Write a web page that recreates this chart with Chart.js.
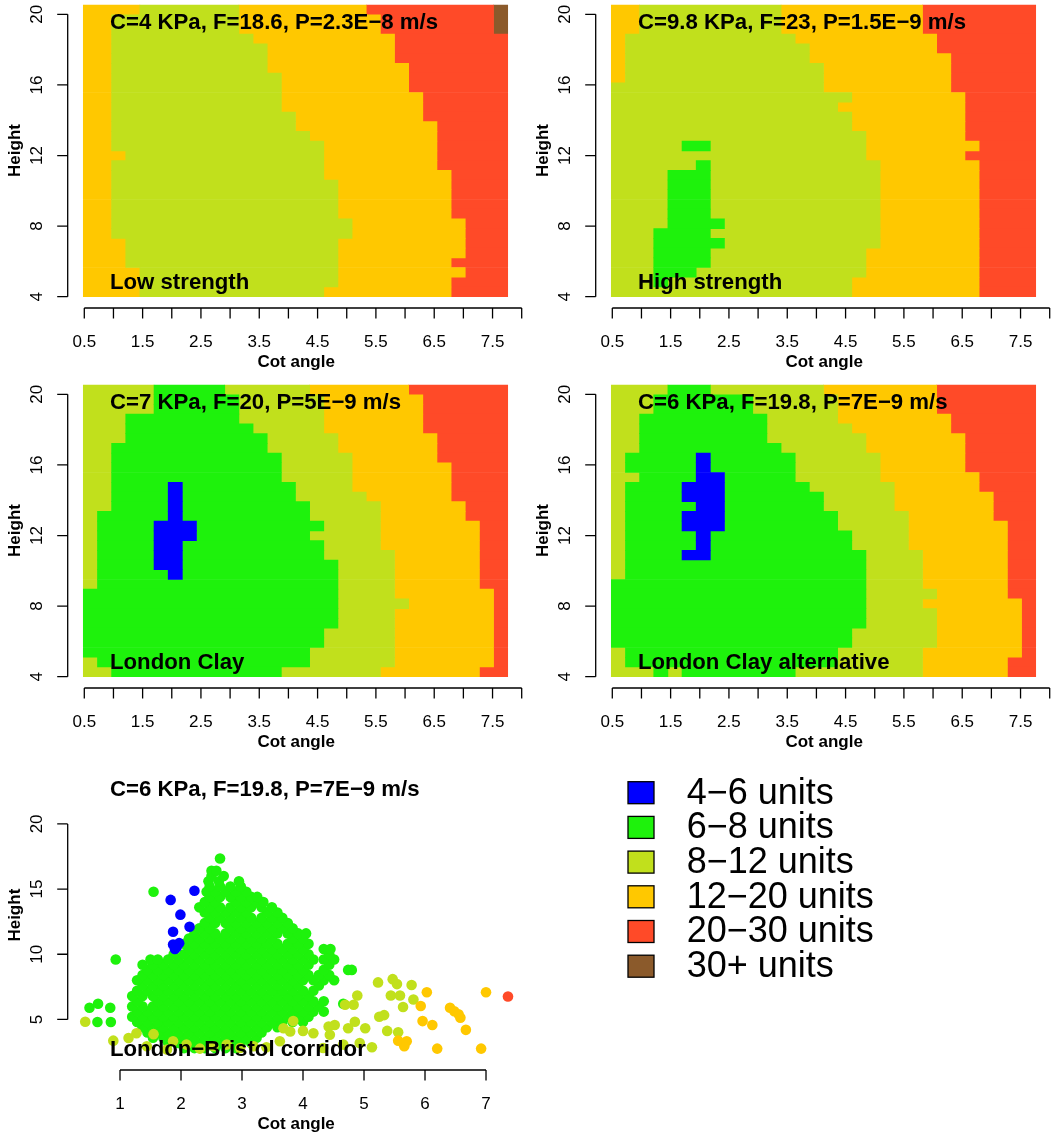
<!DOCTYPE html>
<html>
<head>
<meta charset="utf-8">
<script src="https://cdn.jsdelivr.net/npm/chart.js@4.4.0/dist/chart.umd.min.js"></script>
<style>
  html, body { margin: 0; padding: 0; background: #fff; }
  #page { position: relative; width: 1063px; height: 1135px; overflow: hidden; background: #fff; }
  canvas { position: absolute; }
</style>
</head>
<body>
<div id="page">
  <canvas id="lowStrength" width="530" height="380" style="left:0;top:-7px"></canvas>
  <canvas id="highStrength" width="530" height="380" style="left:528px;top:-7px"></canvas>
  <canvas id="londonClay" width="530" height="380" style="left:0;top:373px"></canvas>
  <canvas id="londonClayAlt" width="530" height="380" style="left:528px;top:373px"></canvas>
  <canvas id="corridor" width="1063" height="380" style="left:0;top:755px"></canvas>
</div>
<script>
const FONT = '"Liberation Sans", Arial, Helvetica, sans-serif';

// cost bands, in legend order
const levelCodes = ['B', 'G', 'L', 'O', 'R', 'W'];
const levelLabels = ['4−6 units', '6−8 units', '8−12 units', '12−20 units', '20−30 units', '30+ units'];
const levelColors = ['#0000ff', '#1ef20c', '#c1e01c', '#ffc800', '#ff4a28', '#8b5a2b'];

// extent of the 30 x 30 grid (cot angle, height)
const cotRange = [0.483, 7.76];
const heightRange = [4.0, 20.53];
const gridCols = 30;

// each row (top row first) is run-length coded: band code + number of cells
const lowStrengthRows = [
  'O4 L7 O9 R9 W1', 'O2 L9 O10 R8 W1', 'O2 L9 O10 R8 W1', 'O2 L10 O10 R8', 'O2 L11 O9 R8',
  'O2 L11 O9 R8', 'O2 L11 O10 R7', 'O2 L12 O9 R7', 'O2 L12 O9 R7', 'O2 L12 O10 R6',
  'O2 L12 O10 R6', 'O2 L13 O9 R6', 'O2 L13 O10 R5', 'O2 L14 O9 R5', 'O2 L15 O8 R5',
  'O3 L14 O8 R5', 'O2 L15 O8 R5', 'O2 L15 O9 R4', 'O2 L16 O8 R4', 'O2 L16 O8 R4',
  'O2 L16 O8 R4', 'O2 L16 O8 R4', 'O2 L17 O8 R3', 'O2 L17 O8 R3', 'O3 L15 O9 R3',
  'O3 L15 O9 R3', 'O3 L15 O8 R4', 'O4 L14 O9 R3', 'O4 L14 O8 R4', 'O4 L13 O9 R4'
];
const highStrengthRows = [
  'O2 L10 O10 R8', 'O2 L10 O10 R8', 'O2 L10 O10 R8', 'O1 L12 O10 R7', 'O1 L13 O9 R7',
  'O1 L13 O10 R6', 'O1 L14 O9 R6', 'O1 L14 O9 R6', 'L15 O9 R6', 'L17 O8 R5',
  'L16 O9 R5', 'L17 O8 R5', 'L17 O8 R5', 'L18 O7 R5', 'L5 G2 L11 O8 R4',
  'L18 O7 R5', 'L6 G1 L12 O7 R4', 'L4 G3 L12 O7 R4', 'L4 G3 L12 O7 R4', 'L4 G3 L12 O7 R4',
  'L4 G3 L12 O7 R4', 'L4 G3 L12 O7 R4', 'L4 G4 L11 O7 R4', 'L3 G4 L12 O7 R4', 'L3 G5 L11 O7 R4',
  'L3 G4 L11 O8 R4', 'L3 G4 L11 O8 R4', 'L3 G3 L12 O8 R4', 'L3 G1 L13 O9 R4', 'L17 O9 R4'
];
const londonClayRows = [
  'L5 G5 L6 O7 R7', 'L5 G6 L6 O7 R6', 'L5 G6 L6 O7 R6', 'L3 G8 L6 O7 R6', 'L3 G9 L5 O7 R6',
  'L3 G10 L5 O7 R5', 'L2 G11 L5 O7 R5', 'L2 G12 L5 O6 R5', 'L2 G12 L5 O7 R4', 'L2 G12 L5 O7 R4',
  'L2 G4 B1 G8 L4 O7 R4', 'L2 G4 B1 G8 L5 O6 R4', 'L2 G4 B1 G9 L5 O6 R3', 'L1 G5 B1 G9 L5 O6 R3', 'L1 G4 B3 G9 L4 O7 R2',
  'L1 G4 B3 G8 L5 O7 R2', 'L1 G4 B2 G10 L4 O7 R2', 'L1 G4 B2 G10 L5 O6 R2', 'L1 G4 B2 G11 L4 O6 R2', 'L1 G5 B1 G11 L4 O6 R2',
  'L1 G17 L4 O6 R2', 'G18 L4 O7 R1', 'G18 L5 O6 R1', 'G18 L4 O7 R1', 'G18 L4 O7 R1',
  'G17 L5 O7 R1', 'G17 L5 O7 R1', 'G16 L6 O7 R1', 'L1 G15 L6 O7 R1', 'L2 G12 L7 O7 R2'
];
const londonClayAltRows = [
  'L4 G3 L8 O8 R7', 'L3 G7 L6 O7 R7', 'L3 G7 L6 O7 R7', 'L2 G9 L5 O8 R6', 'L2 G9 L6 O7 R6',
  'L2 G9 L7 O7 R5', 'L2 G10 L6 O7 R5', 'L1 G5 B1 G6 L6 O6 R5', 'L1 G5 B1 G6 L6 O6 R5', 'L2 G4 B2 G5 L6 O7 R4',
  'L1 G4 B3 G6 L6 O6 R4', 'L1 G4 B3 G7 L5 O7 R3', 'L1 G5 B2 G7 L5 O7 R3', 'L1 G4 B3 G8 L5 O6 R3', 'L1 G4 B3 G8 L5 O7 R2',
  'L1 G5 B1 G10 L4 O7 R2', 'L1 G5 B1 G10 L4 O7 R2', 'L1 G4 B2 G11 L4 O6 R2', 'L1 G17 L4 O6 R2', 'L1 G17 L4 O6 R2',
  'G18 L4 O6 R2', 'G18 L5 O5 R2', 'G18 L4 O7 R1', 'G18 L5 O6 R1', 'G18 L5 O6 R1',
  'G17 L6 O6 R1', 'G17 L6 O6 R1', 'L1 G15 L6 O7 R1', 'L1 G15 L6 O6 R2', 'L3 G1 L1 G8 L9 O6 R2'
];

// London-Bristol corridor sites [cot angle, height]
const corridorBlue = [[1.83, 14.17], [2.22, 14.87], [1.99, 13.04], [2.14, 12.11], [1.87, 11.73],
  [1.87, 10.75], [1.93, 10.55], [1.97, 10.85], [1.9, 10.4]];
// green sites grouped by height: [height, [cot angles]]
const corridorGreenRows = [
  [2.8, [2.05, 2.22, 2.39, 2.56, 2.73, 2.9]],
  [3.2, [1.79, 1.96, 2.13, 2.3, 2.47, 2.64, 2.81, 2.98, 3.15]],
  [3.6, [1.54, 1.71, 1.88, 2.05, 2.22, 2.39, 2.56, 2.73, 2.9, 3.07, 3.24]],
  [4.0, [1.45, 1.62, 1.79, 1.96, 2.13, 2.3, 2.47, 2.64, 2.81, 2.98, 3.15, 3.32]],
  [4.4, [1.37, 1.54, 1.71, 1.88, 2.05, 2.22, 2.39, 2.56, 2.73, 2.9, 3.07, 3.24, 3.41, 3.58]],
  [4.8, [0.63, 0.85, 1.28, 1.45, 1.62, 1.79, 1.96, 2.13, 2.3, 2.47, 2.64, 2.81, 2.98, 3.15, 3.32, 3.49, 3.66, 3.83, 4.0]],
  [5.2, [1.2, 1.37, 1.54, 1.71, 1.88, 2.05, 2.22, 2.39, 2.56, 2.73, 2.9, 3.07, 3.24, 3.41, 3.58, 3.75, 3.92, 4.09]],
  [5.6, [1.28, 1.45, 1.62, 1.79, 1.96, 2.13, 2.3, 2.47, 2.64, 2.81, 2.98, 3.15, 3.32, 3.49, 3.66, 3.83, 4.0, 4.17, 4.34]],
  [5.9, [0.5, 0.84]],
  [6.0, [1.2, 1.37, 1.54, 1.71, 1.88, 2.05, 2.22, 2.39, 2.56, 2.73, 2.9, 3.07, 3.24, 3.41, 3.58, 3.75, 3.92, 4.09, 4.26]],
  [6.2, [0.64, 4.66]],
  [6.4, [1.28, 1.62, 1.79, 1.96, 2.13, 2.3, 2.47, 2.64, 2.81, 2.98, 3.15, 3.32, 3.49, 3.66, 3.83, 4.0, 4.17, 4.34]],
  [6.8, [1.2, 1.37, 1.54, 1.71, 1.88, 2.05, 2.22, 2.39, 2.56, 2.73, 2.9, 3.07, 3.24, 3.41, 3.58, 3.75, 3.92, 4.09]],
  [7.2, [1.28, 1.45, 1.62, 1.79, 1.96, 2.13, 2.3, 2.47, 2.64, 2.81, 2.98, 3.15, 3.32, 3.49, 3.66, 3.83, 4.0, 4.17]],
  [7.6, [1.37, 1.54, 1.71, 1.88, 2.05, 2.22, 2.39, 2.56, 2.73, 2.9, 3.07, 3.24, 3.41, 3.58, 3.75, 3.92, 4.26]],
  [8.0, [1.28, 1.45, 1.62, 1.79, 1.96, 2.13, 2.3, 2.47, 2.64, 2.81, 2.98, 3.15, 3.32, 3.49, 3.66, 3.83, 4.0, 4.17, 4.34, 4.51]],
  [8.4, [1.37, 1.54, 1.71, 1.88, 2.05, 2.22, 2.39, 2.56, 2.73, 2.9, 3.07, 3.24, 3.41, 3.58, 3.75, 3.92, 4.09, 4.26, 4.43]],
  [8.8, [1.45, 1.62, 1.79, 1.96, 2.13, 2.3, 2.47, 2.64, 2.81, 2.98, 3.15, 3.32, 3.49, 3.66, 3.83, 4.0, 4.34, 4.74, 4.8]],
  [9.2, [1.37, 1.54, 1.71, 1.88, 2.05, 2.22, 2.39, 2.56, 2.73, 2.9, 3.07, 3.24, 3.41, 3.58, 3.75, 3.92, 4.09, 4.43]],
  [9.6, [0.93, 1.5, 1.62, 1.79, 1.96, 2.13, 2.3, 2.47, 2.64, 2.81, 2.98, 3.15, 3.32, 3.49, 3.66, 3.83, 4.0, 4.17, 4.34, 4.51]],
  [10.0, [1.88, 2.05, 2.22, 2.39, 2.56, 2.73, 2.9, 3.07, 3.24, 3.41, 3.58, 3.75, 3.92, 4.09, 4.43]],
  [10.4, [2.13, 2.3, 2.47, 2.64, 2.81, 2.98, 3.15, 3.32, 3.49, 3.66, 3.83, 4.0, 4.34, 4.45]],
  [10.8, [2.05, 2.22, 2.39, 2.56, 2.73, 2.9, 3.07, 3.24, 3.41, 3.58, 3.75, 3.92, 4.09]],
  [11.2, [2.13, 2.3, 2.47, 2.64, 2.81, 2.98, 3.15, 3.32, 3.49, 3.83, 4.0]],
  [11.6, [2.22, 2.39, 2.56, 2.73, 2.9, 3.07, 3.24, 3.41, 3.58, 3.75, 3.92, 4.05]],
  [12.0, [2.3, 2.47, 2.81, 2.98, 3.15, 3.32, 3.49, 3.66, 3.83]],
  [12.4, [2.39, 2.56, 2.73, 2.9, 3.07, 3.24, 3.41, 3.58, 3.75]],
  [12.8, [2.47, 2.64, 2.81, 2.98, 3.15, 3.32, 3.49, 3.66]],
  [13.2, [2.39, 2.56, 2.73, 2.9, 3.07, 3.41, 3.58]],
  [13.6, [2.3, 2.47, 2.64, 2.81, 2.98, 3.15, 3.32, 3.49]],
  [14.0, [2.39, 2.56, 2.9, 3.07, 3.24, 3.35]],
  [14.4, [2.47, 2.64, 2.81, 2.98, 3.15, 3.25]],
  [14.8, [1.55, 2.42, 2.56, 2.73, 2.9, 3.07]],
  [15.2, [2.47, 2.64, 2.81, 2.98]],
  [15.6, [2.45, 2.62, 2.95]],
  [16.0, [2.5, 2.7]],
  [16.4, [2.5, 2.58]],
  [17.35, [2.64]]
];
const corridorLime = [[0.43, 4.82], [5.23, 7.84], [5.47, 8.09], [5.54, 7.71], [5.78, 7.64], [5.44, 6.83],
  [5.59, 6.83], [5.64, 5.95], [5.81, 6.53], [5.25, 5.2], [5.33, 5.33], [5.38, 4.12], [5.56, 4.02],
  [4.89, 6.83], [4.83, 6.13], [4.69, 6.13], [4.85, 4.82], [5.02, 4.32], [4.74, 4.32], [4.52, 4.57],
  [4.42, 4.45], [5.13, 2.86], [4.93, 3.19], [0.89, 3.37], [1.14, 3.57], [1.27, 3.94], [1.44, 2.94],
  [1.55, 3.87], [1.77, 2.69], [1.87, 3.32], [2.09, 3.07], [2.31, 2.76], [2.53, 2.94], [2.75, 3.07],
  [2.97, 2.81], [3.19, 2.94], [3.4, 2.86], [3.62, 3.32], [3.68, 4.32], [3.79, 4.07], [3.84, 4.87],
  [4.0, 4.12], [4.17, 3.94], [4.33, 2.81], [4.44, 3.82], [4.66, 3.07]];
const corridorOrange = [[7.0, 7.09], [6.03, 7.09], [5.93, 6.03], [5.96, 4.87], [6.12, 4.57], [6.2, 2.76],
  [6.41, 5.9], [6.48, 5.63], [6.58, 5.13], [6.55, 5.4], [6.67, 4.2], [6.92, 2.76], [5.56, 3.37],
  [5.66, 2.94], [5.7, 3.32]];
const corridorRed = [[7.36, 6.76]];

const panels = [
  { id: 'lowStrength', title: 'C=4 KPa, F=18.6, P=2.3E−8 m/s', label: 'Low strength', rows: lowStrengthRows },
  { id: 'highStrength', title: 'C=9.8 KPa, F=23, P=1.5E−9 m/s', label: 'High strength', rows: highStrengthRows },
  { id: 'londonClay', title: 'C=7 KPa, F=20, P=5E−9 m/s', label: 'London Clay', rows: londonClayRows },
  { id: 'londonClayAlt', title: 'C=6 KPa, F=19.8, P=7E−9 m/s', label: 'London Clay alternative', rows: londonClayAltRows }
];

// R style axes: line only from first to last tick, ticks pointing out
const rAxes = {
  id: 'rAxes',
  afterDraw(chart) {
    const { ctx, chartArea } = chart;
    const x = chart.scales.x, y = chart.scales.y;
    const xt = x.ticks.map(t => x.getPixelForValue(t.value));
    const yt = y.ticks.map(t => y.getPixelForValue(t.value));
    const len = 10.5;
    ctx.save();
    ctx.strokeStyle = '#000';
    ctx.lineWidth = 1.3;
    ctx.beginPath();
    ctx.moveTo(xt[0], chartArea.bottom);
    ctx.lineTo(xt[xt.length - 1], chartArea.bottom);
    xt.forEach(px => { ctx.moveTo(px, chartArea.bottom); ctx.lineTo(px, chartArea.bottom + len); });
    ctx.moveTo(chartArea.left, yt[0]);
    ctx.lineTo(chartArea.left, yt[yt.length - 1]);
    yt.forEach(py => { ctx.moveTo(chartArea.left, py); ctx.lineTo(chartArea.left - len, py); });
    ctx.stroke();
    ctx.restore();
  }
};

const panelText = {
  id: 'panelText',
  afterDatasetsDraw(chart, args, opts) {
    const { ctx, chartArea } = chart;
    ctx.save();
    ctx.fillStyle = '#000';
    ctx.font = 'bold 22.2px ' + FONT;
    ctx.textAlign = 'left';
    ctx.textBaseline = 'alphabetic';
    ctx.fillText(opts.title, chartArea.left + 42.3, chartArea.top + 36);
    ctx.fillText(opts.label, chartArea.left + 42.3, chartArea.top + 295.5);
    ctx.restore();
  }
};

const sideLegend = {
  id: 'sideLegend',
  afterDraw(chart, args, opts) {
    const { ctx } = chart;
    ctx.save();
    ctx.font = opts.fontSize + 'px ' + FONT;
    ctx.textAlign = 'left';
    ctx.textBaseline = 'middle';
    chart.data.datasets.forEach((ds, i) => {
      const top = opts.top + i * opts.rowGap;
      ctx.fillStyle = ds.backgroundColor;
      ctx.fillRect(opts.left, top, opts.boxW, opts.boxH);
      ctx.strokeStyle = '#000';
      ctx.lineWidth = 1.3;
      ctx.strokeRect(opts.left, top, opts.boxW, opts.boxH);
      ctx.fillStyle = '#000';
      ctx.fillText(ds.label, opts.textX, top + opts.boxH / 2 + 1);
    });
    ctx.restore();
  }
};

function xAxis(min, max, step, labelFn) {
  return {
    type: 'linear', min: min, max: max, offset: false,
    grid: { display: false, drawTicks: false, tickLength: 0 },
    border: { display: false },
    ticks: { stepSize: step, includeBounds: false, autoSkip: false, minRotation: 0, maxRotation: 0,
      padding: 24.5, color: '#000', font: { family: FONT, size: 17 }, callback: labelFn },
    title: { display: true, text: 'Cot angle', color: '#000',
      font: { family: FONT, size: 17, weight: 'bold' }, padding: { top: 0, bottom: 0 } },
    afterFit(s) { s.height = 65; s.paddingLeft = 0; s.paddingRight = 0; s.paddingTop = 0; s.paddingBottom = 0; }
  };
}

function yAxis(min, max, step) {
  return {
    type: 'linear', min: min, max: max, offset: false,
    grid: { display: false, drawTicks: false, tickLength: 0 },
    border: { display: false },
    ticks: { stepSize: step, includeBounds: false, autoSkip: false, minRotation: 90, maxRotation: 90,
      crossAlign: 'center', padding: 21, color: '#000', font: { family: FONT, size: 17 },
      callback: v => String(v) },
    title: { display: true, text: 'Height', color: '#000',
      font: { family: FONT, size: 17, weight: 'bold' }, padding: { top: 4.8, bottom: 0 } },
    afterFit(s) { s.width = 67.7; s.paddingLeft = 0; s.paddingRight = 0; s.paddingTop = 0; s.paddingBottom = 0; }
  };
}

function heatmapDatasets(rows) {
  const cw = (cotRange[1] - cotRange[0]) / gridCols;
  const rh = (heightRange[1] - heightRange[0]) / rows.length;
  const sets = levelCodes.map((code, k) => ({
    label: levelLabels[k], data: [], backgroundColor: levelColors[k],
    borderWidth: 0, grouped: false, barPercentage: 1, categoryPercentage: 1
  }));
  rows.forEach((row, j) => {
    const yc = heightRange[1] - (j + 0.5) * rh;
    let col = 0;
    row.split(' ').forEach(run => {
      const k = levelCodes.indexOf(run[0]);
      const n = parseInt(run.slice(1), 10);
      sets[k].data.push({ y: yc, x: [cotRange[0] + col * cw, cotRange[0] + (col + n) * cw] });
      col += n;
    });
  });
  return sets.filter(s => s.data.length);
}

panels.forEach(p => {
  new Chart(document.getElementById(p.id), {
    type: 'bar',
    data: { datasets: heatmapDatasets(p.rows) },
    options: {
      indexAxis: 'y',
      responsive: false,
      animation: false,
      layout: { padding: { left: 0, top: 0, right: 5.4, bottom: 0 } },
      plugins: {
        legend: { display: false },
        tooltip: { enabled: false },
        panelText: { title: p.title, label: p.label }
      },
      scales: {
        x: xAxis(0.2154, 8.0497, 0.5, v => (Math.round(v * 2) % 2 === 1 ? v.toFixed(1) : '')),
        y: yAxis(3.36, 21.21, 4)
      }
    },
    plugins: [rAxes, panelText]
  });
});

const corridorGreen = [];
corridorGreenRows.forEach(([h, cots]) => cots.forEach(c => corridorGreen.push([c, h])));
const corridorSets = [corridorBlue, corridorGreen, corridorLime, corridorOrange, corridorRed, []];
const drawOrder = [0, 5, 4, 3, 2, 1];

new Chart(document.getElementById('corridor'), {
  type: 'scatter',
  data: {
    datasets: levelCodes.map((code, k) => ({
      label: levelLabels[k],
      data: corridorSets[k].map(([x, y]) => ({ x: x, y: y })),
      backgroundColor: levelColors[k],
      pointRadius: 5.3,
      pointBorderWidth: 0,
      order: drawOrder[k]
    }))
  },
  options: {
    responsive: false,
    animation: false,
    layout: { padding: { left: 0, top: 0, right: 538.5, bottom: 0 } },
    plugins: {
      legend: { display: false },
      tooltip: { enabled: false },
      panelText: { title: 'C=6 KPa, F=19.8, P=7E−9 m/s', label: 'London−Bristol corridor' },
      sideLegend: { left: 628, top: 26.7, rowGap: 34.7, boxW: 26, boxH: 22, textX: 686.7, fontSize: 36 }
    },
    scales: {
      x: xAxis(0.1426, 7.631, 1, v => String(v)),
      y: yAxis(1.12, 24.88, 5)
    }
  },
  plugins: [rAxes, panelText, sideLegend]
});
</script>
</body>
</html>
